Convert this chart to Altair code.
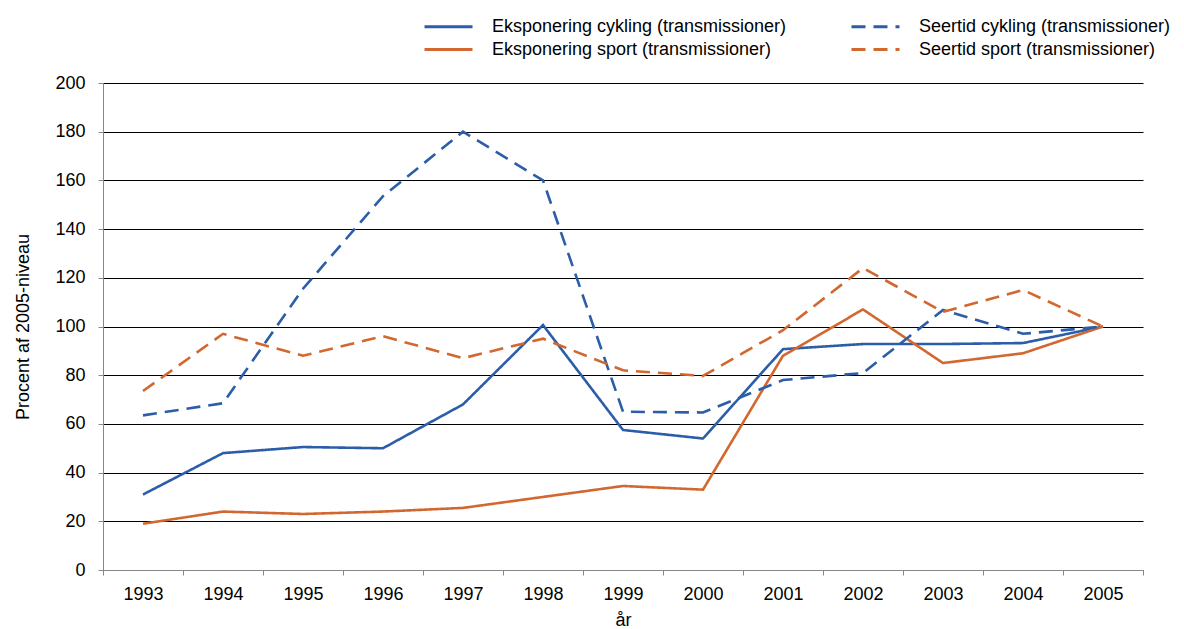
import altair as alt
import pandas as pd

years = ["1993", "1994", "1995", "1996", "1997", "1998", "1999", "2000", "2001", "2002", "2003", "2004", "2005"]
eksp_cykling = [31, 48, 50.5, 50, 68, 100.6, 57.5, 54, 90.7, 92.8, 92.8, 93.2, 100]
eksp_sport = [19, 24, 23, 24, 25.5, 30, 34.5, 33, 88, 107, 85, 89, 100]
seer_cykling = [63.5, 68.5, 115.5, 153.5, 180, 160, 65, 64.7, 78, 80.9, 106.8, 97, 100]
seer_sport = [73.5, 97, 88, 96, 87, 95, 82, 79.7, 98.5, 124, 106, 115, 100]

series_names = [
    "Eksponering cykling (transmissioner)",
    "Eksponering sport (transmissioner)",
    "Seertid cykling (transmissioner)",
    "Seertid sport (transmissioner)",
]
series_values = [eksp_cykling, eksp_sport, seer_cykling, seer_sport]
colors = ["#2C5DA9", "#D2672F", "#2C5DA9", "#D2672F"]
dashes = [[1, 0], [1, 0], [14, 8], [14, 8]]

rows = []
for name, vals in zip(series_names, series_values):
    for y, v in zip(years, vals):
        rows.append({"year": y, "value": v, "series": name})
df = pd.DataFrame(rows)

FONT = "Liberation Sans"

legend_cfg = dict(title=None, orient="none", legendX=332, legendY=-70,
                  columns=2, columnPadding=58, rowPadding=0,
                  symbolType="M-2,0L2,0", symbolSize=576,
                  symbolStrokeWidth=3, labelLimit=500,
                  labelFontSize=18, labelFont=FONT, labelOffset=30, labelColor="#000")

chart = alt.Chart(df).mark_line(strokeWidth=2.6).encode(
    x=alt.X("year:N", sort=years, title="år",
            scale=alt.Scale(paddingInner=0, paddingOuter=0),
            axis=alt.Axis(labelAngle=0, tickBand="extent", grid=False,
                          domainColor="#888", tickColor="#888", tickSize=5,
                          labelPadding=10, titlePadding=8)),
    y=alt.Y("value:Q", title="Procent af 2005-niveau",
            scale=alt.Scale(domain=[0, 200], nice=False),
            axis=alt.Axis(values=list(range(0, 201, 20)), gridColor="#000", gridWidth=1,
                          domainColor="#888", tickColor="#888", tickSize=5,
                          labelPadding=13, titlePadding=22)),
    color=alt.Color("series:N",
                    scale=alt.Scale(domain=series_names, range=colors),
                    legend=alt.Legend(**legend_cfg)),
    strokeDash=alt.StrokeDash("series:N",
                              scale=alt.Scale(domain=series_names, range=dashes),
                              legend=alt.Legend(**legend_cfg)),
).properties(
    width=1040, height=487,
    autosize=alt.AutoSizeParams(type="none"),
    padding={"left": 95, "top": 75, "right": 32, "bottom": 70},
).configure_axis(
    labelFont=FONT, titleFont=FONT, labelFontSize=18, titleFontSize=18,
    labelColor="#000", titleColor="#000", titleFontWeight="normal",
).configure_view(stroke=None)

chart.save("out.html", embed_options={"renderer": "svg", "actions": False})
